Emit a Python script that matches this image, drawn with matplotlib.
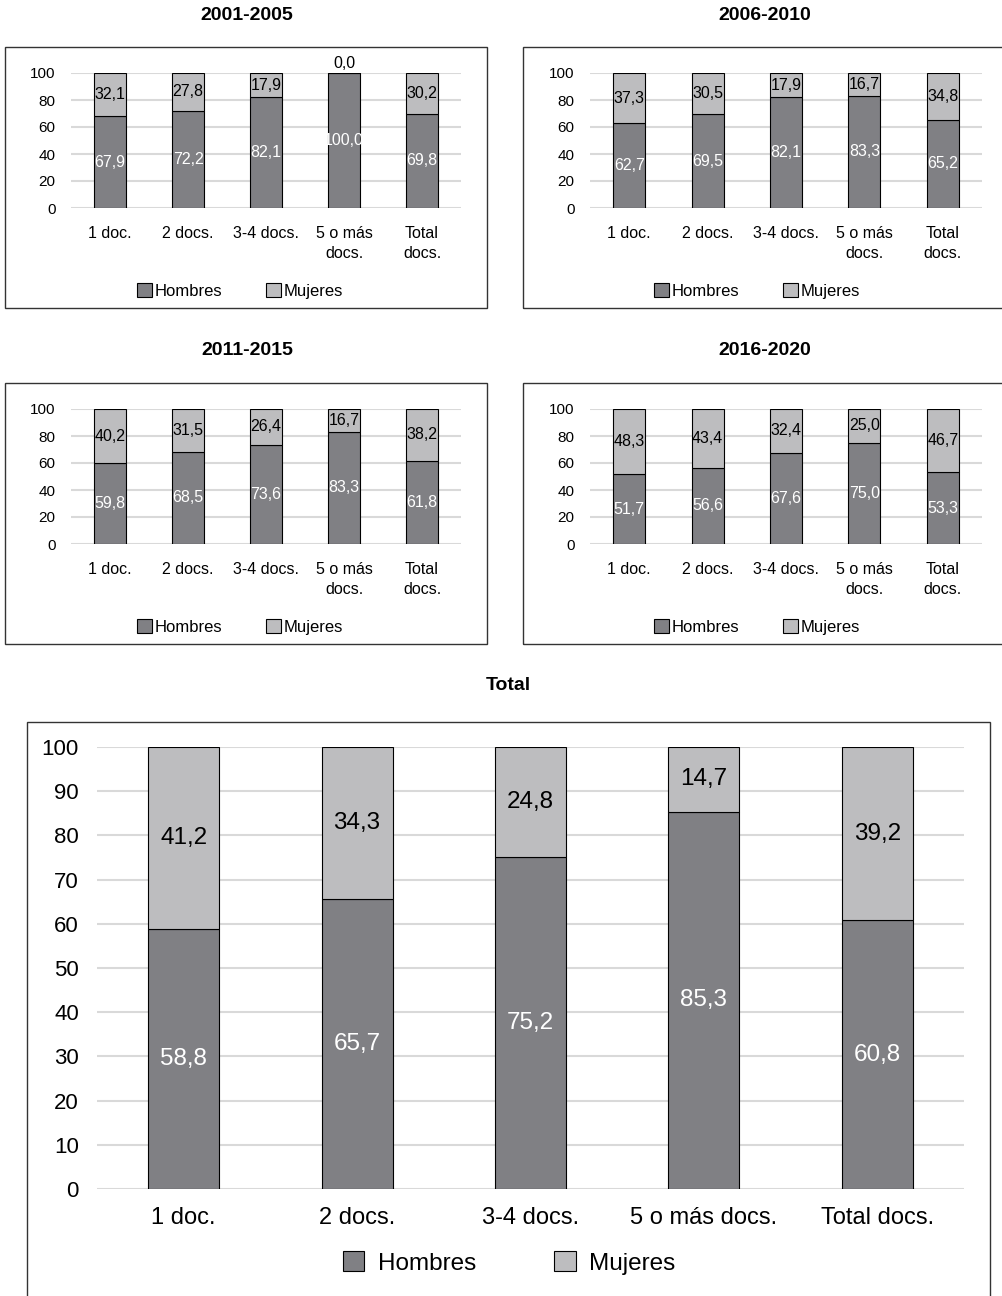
import matplotlib
matplotlib.use("Agg")
import matplotlib.pyplot as plt
from matplotlib.patches import Rectangle, Patch
import numpy as np

plt.rcParams['font.family'] = ['Liberation Sans', 'DejaVu Sans']

W, H = 1002, 1296

categories_small = ['1 doc.', '2 docs.', '3-4 docs.', '5 o más\ndocs.', 'Total\ndocs.']
categories_total = ['1 doc.', '2 docs.', '3-4 docs.', '5 o más docs.', 'Total docs.']

periods = ['2001-2005', '2006-2010', '2011-2015', '2016-2020']
hombres_2001 = [67.9, 72.2, 82.1, 100.0, 69.8]
mujeres_2001 = [32.1, 27.8, 17.9, 0.0, 30.2]
hombres_2006 = [62.7, 69.5, 82.1, 83.3, 65.2]
mujeres_2006 = [37.3, 30.5, 17.9, 16.7, 34.8]
hombres_2011 = [59.8, 68.5, 73.6, 83.3, 61.8]
mujeres_2011 = [40.2, 31.5, 26.4, 16.7, 38.2]
hombres_2016 = [51.7, 56.6, 67.6, 75.0, 53.3]
mujeres_2016 = [48.3, 43.4, 32.4, 25.0, 46.7]
hombres_total = [58.8, 65.7, 75.2, 85.3, 60.8]
mujeres_total = [41.2, 34.3, 24.8, 14.7, 39.2]

C_H = '#808084'
C_M = '#bdbdbf'
GRID = '#d9d9d9'


def fx(x):
    return x / W


def fy(y):
    return 1 - y / H


def add_axes_px(fig, left, top, right, bottom):
    return fig.add_axes([fx(left), fy(bottom), fx(right) - fx(left), (bottom - top) / H])


def add_box(fig, left, top, right, bottom):
    fig.patches.append(Rectangle((fx(left), fy(bottom)), fx(right) - fx(left), (bottom - top) / H,
                                 transform=fig.transFigure, fill=False, edgecolor='#333333',
                                 linewidth=1.0, zorder=0))


def fmt(v):
    return ('%.1f' % v).replace('.', ',')


def stacked(ax, cats, hom, muj, fs, ticks, yfs, xfs, xpad, ypad, legfs, leg_xy, textpad, colsp,
            lsp):
    x = np.arange(len(cats))
    ax.bar(x, hom, width=0.41, color=C_H, edgecolor='black', linewidth=0.8, zorder=3)
    ax.bar(x, muj, width=0.41, bottom=hom, color=C_M, edgecolor='black', linewidth=0.8, zorder=3)
    for i in range(len(cats)):
        ax.text(x[i], hom[i] / 2, fmt(hom[i]), ha='center', va='center', color='white',
                fontsize=fs, zorder=4)
        if muj[i] > 0:
            ax.text(x[i], hom[i] + muj[i] / 2, fmt(muj[i]), ha='center', va='center',
                    color='black', fontsize=fs, zorder=4)
        else:
            ax.text(x[i], hom[i] + 7, fmt(muj[i]), ha='center', va='center',
                    color='black', fontsize=fs, zorder=4)
    ax.set_xlim(-0.5, len(cats) - 0.5)
    ax.set_ylim(0, 100)
    ax.set_yticks(ticks)
    ax.set_xticks(x)
    ax.set_xticklabels(cats, fontsize=xfs, linespacing=lsp)
    ax.tick_params(axis='y', labelsize=yfs, length=0, pad=ypad)
    ax.tick_params(axis='x', length=0, pad=xpad)
    ax.yaxis.grid(True, color=GRID, linewidth=1.5, zorder=0)
    ax.set_axisbelow(True)
    for s in ax.spines.values():
        s.set_visible(False)
    handles = [Patch(facecolor=C_H, edgecolor='black', linewidth=0.8, label='Hombres'),
               Patch(facecolor=C_M, edgecolor='black', linewidth=0.8, label='Mujeres')]
    ax.legend(handles=handles, loc='center', bbox_to_anchor=leg_xy, ncol=2,
              frameon=False, fontsize=legfs, handlelength=0.9, handleheight=0.9,
              handletextpad=textpad, columnspacing=colsp)


fig = plt.figure(figsize=(W / 100, H / 100), dpi=100)

small_data = [(hombres_2001, mujeres_2001), (hombres_2006, mujeres_2006),
              (hombres_2011, mujeres_2011), (hombres_2016, mujeres_2016)]
boxes_x = [(5, 487), (523, 1010)]
axes_x = [(71, 461), (590, 982)]
legend_cx = [240, 757]
title_x = [247, 765]

for k, per in enumerate(periods):
    col = k % 2
    off = 336 * (k // 2)
    add_box(fig, boxes_x[col][0], 47 + off, boxes_x[col][1], 308 + off)
    fig.text(fx(title_x[col]), fy(15 + off), per, ha='center', va='center',
             fontsize=14, fontweight='bold')
    left, right = axes_x[col]
    ax = add_axes_px(fig, left, 73 + off, right, 208 + off)
    hom, muj = small_data[k]
    # legend sits at y=291 px
    leg_xy = ((legend_cx[col] - left) / (right - left), (208 - 291) / 135.0)
    stacked(ax, categories_small, hom, muj, fs=11.5, ticks=[0, 20, 40, 60, 80, 100],
            yfs=11, xfs=11.5, xpad=13, ypad=11, legfs=12, leg_xy=leg_xy, textpad=0.15,
            colsp=2.6, lsp=1.4)

# total chart
add_box(fig, 27, 722, 990, 1310)
fig.text(fx(508), fy(686), 'Total', ha='center', va='center', fontsize=14, fontweight='bold')
ax = add_axes_px(fig, 97, 747, 964, 1189)
leg_xy = ((509 - 97) / 867.0, (1189 - 1263) / 442.0)
stacked(ax, categories_total, hombres_total, mujeres_total, fs=17.5,
        ticks=list(range(0, 101, 10)), yfs=16, xfs=17, xpad=13, ypad=13, legfs=17.5,
        leg_xy=leg_xy, textpad=0.55, colsp=3.2, lsp=1.2)

fig.savefig('out.png', dpi=100)
